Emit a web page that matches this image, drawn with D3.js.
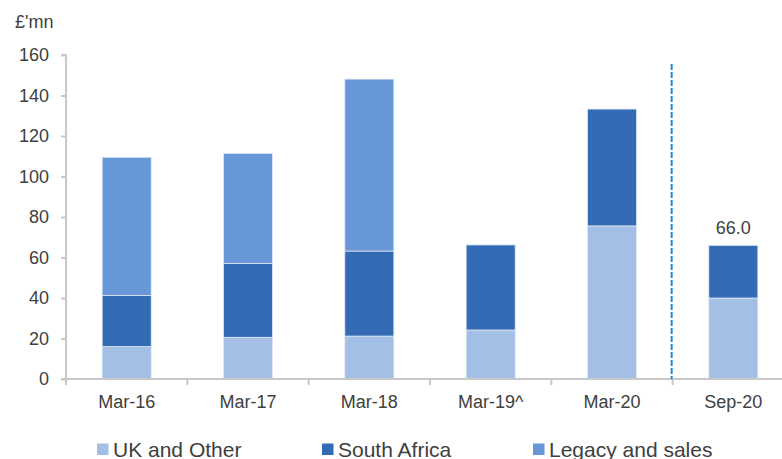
<!DOCTYPE html>
<html>
<head>
<meta charset="utf-8">
<script src="https://cdn.jsdelivr.net/npm/d3@7"></script>
<style>
  html, body { margin: 0; padding: 0; background: #fff; }
  svg { display: block; font-family: "Liberation Sans", Arial, sans-serif; }
</style>
</head>
<body>
<svg id="chart" width="782" height="459"></svg>
<script>
// Period labels along the x axis
const categories = ["Mar-16", "Mar-17", "Mar-18", "Mar-19^", "Mar-20", "Sep-20"];
// Segment values, £'mn
const ukOther    = [16.0, 20.6, 21.2, 24.2, 75.6, 40.0];
const southAfrica = [25.2, 36.4, 42.0, 42.0, 57.7, 26.0];
const legacySales = [68.3, 54.4, 84.9, 0, 0, 0];
// Totals shown as labels
const labelledTotals = [{ index: 5, text: "66.0" }];
const yTicks = [0, 20, 40, 60, 80, 100, 120, 140, 160];
const seriesNames = ["UK and Other", "South Africa", "Legacy and sales"];
const seriesColors = ["#a3bfe5", "#336cb5", "#6797d6"];

const svg = d3.select("#chart");
const y0 = 379;

const x = d3.scaleBand().domain(categories).range([66, 794]).paddingInner(0.596).paddingOuter(0.298);
const y = d3.scaleLinear().domain([0, 160]).range([y0, 55]);
const step = x.step();

const rows = categories.map((c, i) => ({
  cat: c, uk: ukOther[i], sa: southAfrica[i], legacy: legacySales[i]
}));
const layers = d3.stack().keys(["uk", "sa", "legacy"])(rows);

// Stacked bars
svg.append("g").selectAll("g").data(layers).join("g")
  .attr("fill", (d, i) => seriesColors[i])
  .selectAll("rect").data(d => d.filter(p => p[1] > p[0])).join("rect")
  .attr("x", d => x(d.data.cat))
  .attr("width", x.bandwidth())
  .attr("y", d => y(d[1]))
  .attr("height", d => y(d[0]) - y(d[1]))
  .attr("stroke", "#dfe8f5")
  .attr("stroke-width", 0.8);

// Y axis
const yAxis = svg.append("g").attr("transform", "translate(66,0)")
  .call(d3.axisLeft(y).tickValues(yTicks).tickSize(5).tickPadding(12).tickFormat(d3.format("d")));
yAxis.select(".domain").attr("stroke", "#c8c8c8").attr("stroke-width", 2)
  .attr("d", `M-5,${y(160)}H0V${y0}`);
yAxis.selectAll(".tick line").attr("stroke", "#c8c8c8").attr("stroke-width", 2);
yAxis.selectAll(".tick text").attr("fill", "#404040").style("font-size", "18px");

// X axis: ticks at band boundaries
const xAxisG = svg.append("g").attr("transform", `translate(0,${y0})`);
xAxisG.append("line").attr("x1", 61).attr("x2", 782).attr("y1", 0).attr("y2", 0)
  .attr("stroke", "#c8c8c8").attr("stroke-width", 2);
xAxisG.selectAll("line.tk").data(categories).join("line").attr("class", "tk")
  .attr("x1", d => x(d) + x.bandwidth() / 2 - step / 2)
  .attr("x2", d => x(d) + x.bandwidth() / 2 - step / 2)
  .attr("y1", 0).attr("y2", 6)
  .attr("stroke", "#c8c8c8").attr("stroke-width", 2);
xAxisG.selectAll("text").data(categories).join("text")
  .attr("x", d => x(d) + x.bandwidth() / 2)
  .attr("y", 29)
  .attr("text-anchor", "middle")
  .attr("fill", "#404040")
  .style("font-size", "18px")
  .text(d => d);

// Divider between annual and half-year figures
const divX = x("Sep-20") + x.bandwidth() / 2 - step / 2 - 1;
svg.append("line")
  .attr("x1", divX).attr("x2", divX)
  .attr("y1", 64).attr("y2", y0)
  .attr("stroke", "#1f86da").attr("stroke-width", 2)
  .attr("stroke-dasharray", "6,2");

// Total labels
svg.selectAll("text.total").data(labelledTotals).join("text").attr("class", "total")
  .attr("x", d => x(categories[d.index]) + x.bandwidth() / 2)
  .attr("y", d => y(ukOther[d.index] + southAfrica[d.index] + legacySales[d.index]) - 11)
  .attr("text-anchor", "middle")
  .attr("fill", "#404040")
  .style("font-size", "18px")
  .text(d => d.text);

// Unit label
svg.append("text").attr("x", 15).attr("y", 28).attr("fill", "#404040")
  .style("font-size", "18px").text("£'mn");

// Legend
const legendX = [97, 322, 533];
const legend = svg.append("g").selectAll("g").data(seriesNames).join("g")
  .attr("transform", (d, i) => `translate(${legendX[i]},0)`);
legend.append("rect").attr("x", 0).attr("y", 443.5).attr("width", 11.5).attr("height", 11.5)
  .attr("fill", (d, i) => seriesColors[i]);
legend.append("text").attr("x", 16).attr("y", 456.5).attr("fill", "#404040")
  .style("font-size", "21px").text(d => d);
</script>
</body>
</html>
